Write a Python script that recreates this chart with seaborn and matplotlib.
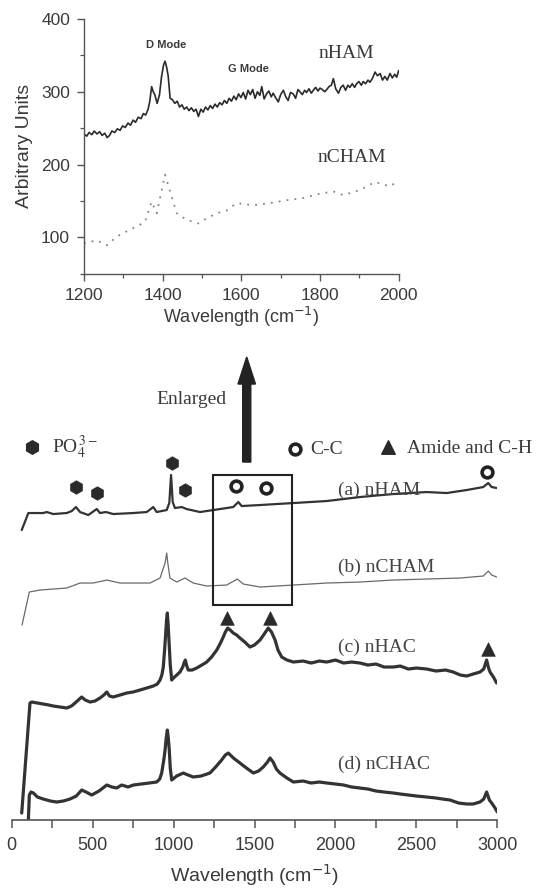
import matplotlib
matplotlib.use("Agg")
import matplotlib.pyplot as plt
from matplotlib.patches import Rectangle
from matplotlib.ticker import MultipleLocator
import seaborn as sns
import pandas as pd

# ---------------- data ----------------
# Enlarged region (upper panel): Raman shift (cm-1) and intensity (a.u.)
zoom_nham_x = [1200, 1207, 1213, 1220, 1226, 1233, 1240, 1246, 1253, 1259, 1265, 1271, 1278, 1285,
               1292, 1298, 1305, 1312, 1318, 1325, 1331, 1338, 1345, 1351, 1357, 1363, 1367, 1372,
               1376, 1380, 1386, 1392, 1397, 1402, 1406, 1410, 1414, 1419, 1425, 1431, 1437, 1443,
               1449, 1455, 1461, 1467, 1473, 1479, 1485, 1491, 1497, 1503, 1509, 1515, 1521, 1527,
               1533, 1539, 1545, 1551, 1557, 1563, 1569, 1575, 1581, 1587, 1593, 1599, 1605, 1611,
               1617, 1623, 1629, 1635, 1641, 1647, 1652, 1658, 1664, 1670, 1676, 1681, 1687, 1694,
               1700, 1707, 1713, 1719, 1725, 1732, 1738, 1744, 1749, 1755, 1761, 1766, 1772, 1778,
               1783, 1789, 1795, 1800, 1806, 1812, 1817, 1823, 1829, 1834, 1840, 1847, 1853, 1859,
               1865, 1871, 1876, 1882, 1888, 1893, 1899, 1905, 1910, 1916, 1922, 1927, 1933, 1940,
               1946, 1953, 1959, 1965, 1971, 1978, 1984, 1990, 1995, 2000]
zoom_nham_y = [242, 239, 244, 241, 246, 242, 245, 240, 243, 237, 240, 246, 244, 249,
               247, 253, 251, 257, 254, 261, 258, 265, 263, 270, 268, 276, 286, 307,
               300, 296, 284, 296, 320, 336, 342, 334, 322, 291, 289, 284, 287, 279,
               282, 276, 279, 274, 278, 273, 276, 266, 276, 272, 279, 275, 281, 277,
               283, 279, 285, 282, 288, 284, 291, 287, 294, 289, 297, 292, 299, 290,
               302, 296, 303, 291, 300, 295, 307, 290, 297, 301, 293, 298, 292, 286,
               296, 302, 293, 288, 299, 297, 291, 303, 300, 296, 302, 299, 304, 298,
               302, 306, 301, 305, 303, 300, 303, 307, 309, 318, 304, 298, 306, 309,
               302, 309, 306, 311, 306, 311, 314, 309, 314, 311, 316, 313, 318, 327,
               322, 325, 316, 321, 316, 325, 319, 324, 320, 329]

zoom_ncham_x = [1200, 1203, 1232, 1258, 1283, 1308, 1334, 1355, 1372, 1385, 1406, 1436, 1461, 1491,
                1512, 1537, 1563, 1588, 1630, 1673, 1715, 1758, 1800, 1834, 1859, 1902, 1940, 1978,
                2000]
zoom_ncham_y = [93, 92, 96, 89, 101, 108, 115, 121, 149, 133, 186, 133, 124, 119,
                126, 133, 137, 147, 144, 147, 151, 154, 160, 163, 158, 165, 176, 170,
                178]

# Full spectra (lower panel), stacked intensities (a.u.)
a_x = [63, 104, 135, 196, 217, 258, 341, 372, 398, 423, 474, 526, 546, 583, 628, 752, 835, 875,
       896, 958, 974, 985, 995, 1009, 1051, 1081, 1164, 1246, 1369, 1400, 1421, 1534, 1740, 1946,
       2151, 2357, 2563, 2686, 2810, 2912, 2943, 2964, 2995]
a_y = [290, 307, 307, 307, 308, 306, 307, 309, 313, 308, 305, 311, 307, 308, 306, 307, 308, 313,
       308, 310, 317, 345, 318, 312, 313, 311, 308, 310, 313, 318, 314, 315, 317, 319,
       323, 326, 328, 327, 330, 333, 337, 333, 332]

b_x = [65, 110, 176, 341, 423, 505, 588, 670, 752, 855, 917, 948, 958, 964, 978, 1020, 1071, 1122,
       1205, 1328, 1394, 1431, 1534, 1740, 1946, 2151, 2357, 2563, 2769, 2912, 2943, 2964, 2995]
b_y = [195, 228, 230, 232, 237, 237, 240, 237, 237, 237, 242, 257, 267, 258, 242, 238, 242, 237,
       234, 235, 241, 236, 233, 235, 237, 238, 240, 241, 242, 244, 249, 245, 243]

c_x = [63, 114, 125, 160, 196, 230, 258, 300, 341, 370, 392, 433, 455, 485, 515, 546, 570, 588,
       605, 628, 670, 711, 750, 793, 835, 875, 900, 917, 928, 937, 945, 952, 957, 962, 967, 972,
       980, 989, 1000, 1020, 1040, 1057, 1065, 1073, 1082, 1091, 1115, 1143, 1175, 1205, 1235,
       1267, 1290, 1307, 1320, 1335, 1350, 1369, 1390, 1410, 1440, 1472, 1500, 1534, 1560, 1585,
       1605, 1627, 1645, 1668, 1700, 1740, 1800, 1850, 1900, 1946, 2000, 2050, 2100, 2151, 2200,
       2250, 2300, 2357, 2400, 2450, 2500, 2563, 2620, 2680, 2727, 2770, 2810, 2850, 2892, 2915,
       2933, 2945, 2954, 2975, 2995]
c_y = [7, 117, 118, 117, 116, 115, 114, 113, 112, 114, 117, 123, 120, 118, 119, 122, 125, 128,
       124, 123, 125, 127, 128, 130, 132, 134, 136, 140, 145, 153, 170, 187, 200, 207, 195, 180,
       155, 140, 142, 145, 148, 153, 157, 160, 154, 150, 150, 152, 155, 158, 163,
       170, 177, 183, 188, 192, 190, 187, 185, 182, 178, 173, 175, 180, 186, 192,
       188, 180, 170, 163, 160, 158, 159, 157, 159, 158, 160, 157, 158, 157, 155,
       156, 153, 153, 154, 151, 152, 151, 149, 150, 148, 145, 144, 146, 148, 151,
       160, 152, 148, 143, 137]

d_x = [104, 110, 120, 135, 160, 196, 240, 279, 320, 361, 400, 433, 460, 495, 540, 588, 620, 649,
       680, 720, 752, 800, 850, 896, 915, 927, 940, 948, 955, 962, 968, 974, 980, 989, 1020, 1060,
       1090, 1122, 1170, 1225, 1260, 1297, 1320, 1338, 1370, 1410, 1450, 1493, 1525, 1554, 1580,
       1596, 1615, 1635, 1657, 1700, 1740, 1800, 1850, 1900, 1946, 2000, 2050, 2100, 2151, 2200,
       2250, 2300, 2357, 2400, 2450, 2500, 2563, 2620, 2660, 2707, 2760, 2810, 2850, 2892, 2915,
       2933, 2950, 2964, 2985, 2999]
d_y = [0, 25, 28, 27, 23, 21, 19, 18, 19, 21, 24, 30, 28, 25, 29, 35, 33, 32,
       35, 33, 35, 36, 37, 38, 41, 47, 60, 70, 82, 90, 82, 70, 52, 40, 44, 47,
       45, 43, 44, 47, 53, 60, 65, 67, 62, 57, 52, 47, 49, 53, 58,
       62, 58, 51, 47, 42, 38, 39, 37, 38, 37, 36, 35, 33, 32, 31,
       29, 28, 27, 26, 25, 24, 23, 22, 21, 20, 17, 16, 16, 18, 21,
       28, 20, 17, 12, 8]

# Band assignments
po4_x, po4_y = [398, 530, 989, 1071], [333, 327, 357, 330]
cc_x, cc_y = [1386, 1571, 2933], [334, 332, 348]
amide_x, amide_y = [1328, 1596, 2939], [202, 202, 171]

spectrum_names = ["(a) nHAM", "(b) nCHAM", "(c) nHAC", "(d) nCHAC"]
spectrum_label_y = [330, 253, 173, 56]

zoom_xticks = [1200, 1400, 1600, 1800, 2000]
zoom_yticks = [100, 200, 300, 400]
full_xticks = [0, 500, 1000, 1500, 2000, 2500, 3000]

# ---------------- style ----------------
sns.set_style("ticks")
plt.rcParams["font.family"] = ["Liberation Sans", "DejaVu Sans"]
INK = "#2b2b2b"
TXT = "#3a3a3a"
SERIF = ["Liberation Serif", "DejaVu Serif"]

fig = plt.figure(figsize=(5.38, 8.89), dpi=100)

# ---------------- upper panel ----------------
ax1 = fig.add_axes([0.1561, 0.6921, 0.5849, 0.2866])
sns.lineplot(x=zoom_nham_x, y=zoom_nham_y, ax=ax1, color=INK, lw=1.2,
             sort=False, estimator=None)
sns.lineplot(x=zoom_ncham_x, y=zoom_ncham_y, ax=ax1, color="#858585", lw=1.3,
             sort=False, estimator=None, linestyle=(0, (1, 3.4)))
ax1.set_xlim(1200, 2000)
ax1.set_ylim(50, 400)
ax1.set_xticks(zoom_xticks)
ax1.set_yticks(zoom_yticks)
ax1.xaxis.set_minor_locator(MultipleLocator(100))
ax1.yaxis.set_minor_locator(MultipleLocator(50))
sns.despine(ax=ax1)
for sp in ("left", "bottom"):
    ax1.spines[sp].set_color("#555555")
    ax1.spines[sp].set_linewidth(1.0)
ax1.tick_params(which="major", length=5, width=1.0, color="#555555",
                labelsize=12.5, labelcolor=TXT, pad=5)
ax1.tick_params(which="minor", length=3, width=0.9, color="#555555")
ax1.set_ylabel("Arbitrary Units", fontsize=14, color=TXT, labelpad=6)
ax1.set_xlabel("Wavelength (cm$^{-1}$)", fontsize=13, color=TXT, labelpad=2,
               math_fontfamily="dejavusans")
ax1.text(1410, 364, "D Mode", fontsize=8, fontweight="bold", color=TXT, ha="center", va="center")
ax1.text(1618, 331, "G Mode", fontsize=8, fontweight="bold", color=TXT, ha="center", va="center")
ax1.text(1866, 352, "nHAM", fontsize=14, family=SERIF, color=TXT, ha="center", va="center")
ax1.text(1881, 209, "nCHAM", fontsize=14, family=SERIF, color=TXT, ha="center", va="center")

# ---------------- lower panel ----------------
ax2 = fig.add_axes([0.0214, 0.0776, 0.9033, 0.5399])
full = pd.concat([
    pd.DataFrame({"shift": a_x, "inten": a_y, "sample": spectrum_names[0]}),
    pd.DataFrame({"shift": b_x, "inten": b_y, "sample": spectrum_names[1]}),
    pd.DataFrame({"shift": c_x, "inten": c_y, "sample": spectrum_names[2]}),
    pd.DataFrame({"shift": d_x, "inten": d_y, "sample": spectrum_names[3]}),
])
sns.lineplot(data=full, x="shift", y="inten", hue="sample", size="sample",
             palette={spectrum_names[0]: "#333333", spectrum_names[1]: "#6a6a6a",
                      spectrum_names[2]: "#333333", spectrum_names[3]: "#333333"},
             sizes={spectrum_names[0]: 1.6, spectrum_names[1]: 0.9,
                    spectrum_names[2]: 2.3, spectrum_names[3]: 2.3},
             sort=False, estimator=None, legend=False, ax=ax2)
ax2.set_xlim(0, 3000)
ax2.set_ylim(0, 480)
ax2.set_xticks(full_xticks)
ax2.xaxis.set_minor_locator(MultipleLocator(250))
ax2.set_yticks([])
ax2.set_ylabel("")
sns.despine(ax=ax2, left=True)
ax2.spines["bottom"].set_color("#555555")
ax2.spines["bottom"].set_linewidth(1.2)
ax2.tick_params(axis="x", which="major", length=6, width=1.1, color="#555555",
                labelsize=13, labelcolor=TXT, pad=6)
ax2.tick_params(axis="x", which="minor", length=6, width=1.1, color="#555555")
ax2.set_xlabel("Wavelength (cm$^{-1}$)", fontsize=14, color=TXT, labelpad=6,
               math_fontfamily="dejavusans")

# band markers on the spectra
sns.scatterplot(x=po4_x, y=po4_y, ax=ax2, marker="h", s=95, color="#2a2a2a",
                edgecolor="#2a2a2a", linewidth=0.5, zorder=5, clip_on=False)
sns.scatterplot(x=cc_x, y=cc_y, ax=ax2, marker="o", s=60, color="white",
                edgecolor="#222222", linewidth=2.6, zorder=5, clip_on=False)
sns.scatterplot(x=amide_x, y=amide_y, ax=ax2, marker="^", s=95, color="#2a2a2a",
                edgecolor="#2a2a2a", linewidth=0.5, zorder=5, clip_on=False)

# key for the band markers
ax2.scatter([128], [373], marker="h", s=95, color="#2a2a2a", zorder=5)
ax2.text(248, 373, "PO$_4^{\\,3-}$", fontsize=14, family=SERIF, color=TXT,
         ha="left", va="center", math_fontfamily="stix")
ax2.scatter([1750], [371], marker="o", s=60, facecolor="white", edgecolor="#222222",
            linewidth=2.6, zorder=5)
ax2.text(1843, 371, "C-C", fontsize=14, family=SERIF, color=TXT, ha="left", va="center")
ax2.scatter([2326], [373], marker="^", s=95, color="#2a2a2a", zorder=5)
ax2.text(2440, 372, "Amide and C-H", fontsize=14, family=SERIF, color=TXT,
         ha="left", va="center")

# sample names
for name, ly in zip(spectrum_names, spectrum_label_y):
    ax2.text(2017, ly, name, fontsize=14, family=SERIF, color="#444444",
             ha="left", va="center")

# enlarged window and arrow pointing to the upper panel
ax2.add_patch(Rectangle((1242, 215), 1730 - 1242, 345 - 215, fill=False,
                        edgecolor="#222222", linewidth=1.5, zorder=4))
ax2.arrow(1452, 358, 0, 463 - 358, width=50, head_width=108, head_length=27,
          length_includes_head=True, color="#222222", zorder=4)
ax2.text(1330, 421, "Enlarged", fontsize=14, family=SERIF, color=TXT,
         ha="right", va="center")

fig.savefig("out.png", dpi=100)
